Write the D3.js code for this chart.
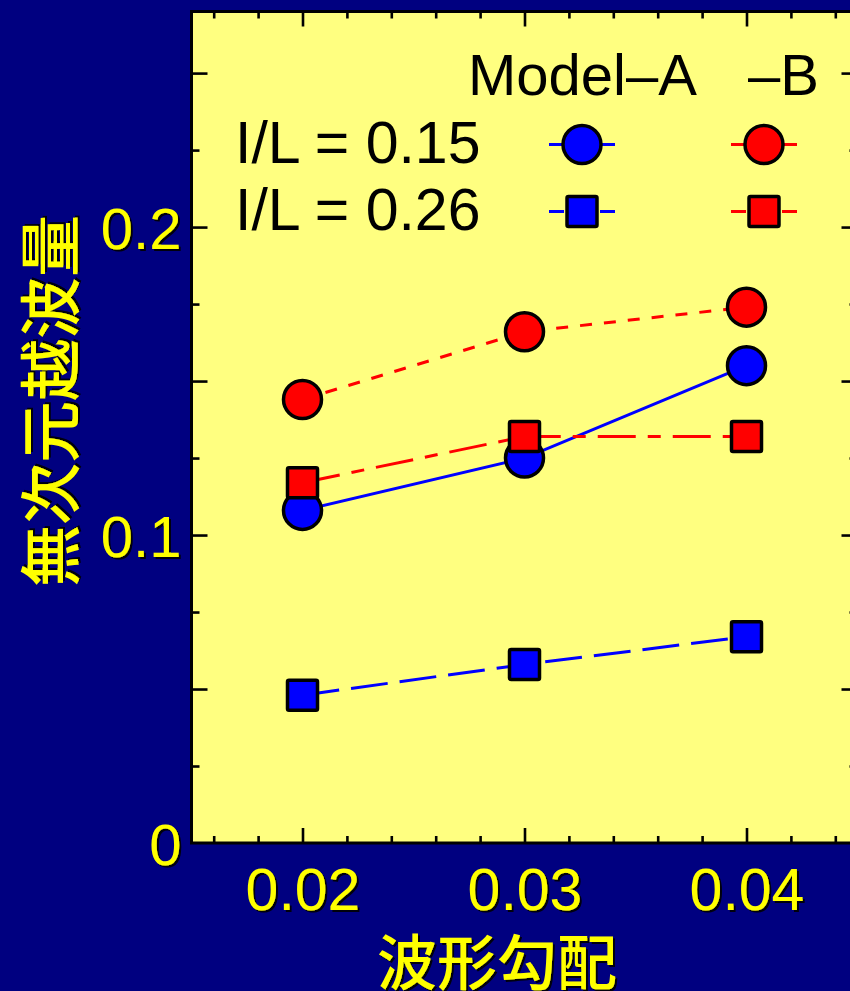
<!DOCTYPE html>
<html>
<head>
<meta charset="utf-8">
<script src="https://cdn.jsdelivr.net/npm/d3@7"></script>
<style>
  html, body { margin: 0; padding: 0; background: #000080; overflow: hidden; }
  svg { display: block; }
</style>
</head>
<body>
<div id="chart"></div>
<script>
// Wave steepness on x, dimensionless overtopping volume on y
const slopes = [0.02, 0.03, 0.04];
const modelA_015 = [0.108, 0.125, 0.155];
const modelB_015 = [0.144, 0.166, 0.174];
const modelA_026 = [0.048, 0.058, 0.067];
const modelB_026 = [0.117, 0.132, 0.132];

const xTicksMajor = [0.02, 0.03, 0.04];
const xTickLabels = ["0.02", "0.03", "0.04"];
const yTicksLabeled = [0, 0.1, 0.2];
const yTickLabels = ["0", "0.1", "0.2"];

const xTitle = "波形勾配";
const yTitle = "無次元越波量";
const legendHeader = ["Model–A", "–B"];
const legendRows = ["I/L = 0.15", "I/L = 0.26"];

const W = 850, H = 991;
const margin = { left: 191.5, top: 11.5, right: -7.5, bottom: 148 };
const plotW = W - margin.left - margin.right;
const plotH = H - margin.top - margin.bottom;

const BLUE = "#0000ff", RED = "#ff0000", NAVY = "#000080", PANEL = "#ffff80", TXT = "#ffff00";
const latin = "'Liberation Sans', Arial, Helvetica, sans-serif";
const cjk = "'Noto Sans CJK JP', 'Noto Sans CJK SC', sans-serif";

const svg = d3.select("#chart").append("svg").attr("width", W).attr("height", H);
svg.append("rect").attr("width", W).attr("height", H).attr("fill", NAVY);

// soft dark drop shadow for the yellow labels
const filt = svg.append("defs").append("filter").attr("id", "shadow")
  .attr("x", "-10%").attr("y", "-10%").attr("width", "130%").attr("height", "130%");
filt.append("feDropShadow").attr("dx", 2).attr("dy", 2).attr("stdDeviation", 0.6)
  .attr("flood-color", "#000").attr("flood-opacity", 0.9);

const x = d3.scaleLinear().domain([0.015, 0.045]).range([0, plotW]);
const y = d3.scaleLinear().domain([0, 0.27]).range([plotH, 0]);

const g = svg.append("g").attr("transform", `translate(${margin.left},${margin.top})`);
g.append("rect").attr("width", plotW).attr("height", plotH).attr("fill", PANEL);

// tick value lists
const xMinor = d3.range(0, 16).map(i => +(0.016 + i * 0.002).toFixed(3)).filter(v => xTicksMajor.indexOf(v) < 0);
const yMinor = d3.range(1, 11).map(i => +(i * 0.025).toFixed(3)).filter(v => Math.abs((v / 0.05) - Math.round(v / 0.05)) > 1e-6);
const yMajor = d3.range(1, 6).map(i => +(i * 0.05).toFixed(2));

function tickAxis(gen, vals, len, transform) {
  const a = g.append("g").attr("transform", transform || null)
    .call(gen.tickValues(vals).tickSize(-len).tickFormat("").tickSizeOuter(0));
  a.select(".domain").remove();
  a.selectAll(".tick line").attr("stroke", "#000").attr("stroke-width", 2.6);
  return a;
}
// inward ticks on all four sides
tickAxis(d3.axisBottom(x), xMinor, 7, `translate(0,${plotH})`);
tickAxis(d3.axisBottom(x), xTicksMajor, 15, `translate(0,${plotH})`);
tickAxis(d3.axisTop(x), xMinor, 7);
tickAxis(d3.axisTop(x), xTicksMajor, 15);
tickAxis(d3.axisLeft(y), yMinor, 8);
tickAxis(d3.axisLeft(y), yMajor, 16);
tickAxis(d3.axisRight(y), yMinor, 8, `translate(${plotW},0)`);
tickAxis(d3.axisRight(y), yMajor, 16, `translate(${plotW},0)`);

// tick labels through the axis generators
const xLab = g.append("g").attr("transform", `translate(0,${plotH})`)
  .call(d3.axisBottom(x).tickValues(xTicksMajor).tickSize(0).tickPadding(0)
    .tickFormat((d, i) => xTickLabels[i]));
xLab.select(".domain").remove();
xLab.selectAll(".tick text")
  .attr("y", 67).attr("dy", null).attr("fill", TXT).attr("filter", "url(#shadow)")
  .style("font-family", latin).style("font-size", "59px");

const yLab = g.append("g")
  .call(d3.axisLeft(y).tickValues(yTicksLabeled).tickSize(0).tickPadding(0)
    .tickFormat((d, i) => yTickLabels[i]));
yLab.select(".domain").remove();
yLab.selectAll(".tick text")
  .attr("x", -10).attr("y", 21).attr("dy", null).attr("fill", TXT).attr("filter", "url(#shadow)")
  .style("font-family", latin).style("font-size", "58px");

// axis titles
svg.append("text").attr("x", 497).attr("y", 958).attr("text-anchor", "middle")
  .attr("dominant-baseline", "central").attr("fill", TXT).attr("filter", "url(#shadow)")
  .style("font-family", cjk).style("font-size", "60px").style("font-weight", 500)
  .text(xTitle);
svg.append("text").attr("transform", "translate(47,401) rotate(-90)")
  .attr("text-anchor", "middle").attr("dominant-baseline", "central")
  .attr("fill", TXT).attr("filter", "url(#shadow)")
  .style("font-family", cjk).style("font-size", "62px").style("font-weight", 500)
  .text(yTitle);

// series definitions
const series = [
  { vals: modelA_015, color: BLUE, shape: "circle", dash: null },
  { vals: modelB_015, color: RED, shape: "circle", dash: "12,12" },
  { vals: modelA_026, color: BLUE, shape: "square", dash: "37,12" },
  { vals: modelB_026, color: RED, shape: "square", dash: "38,12,13,12" }
];

const line = d3.line().x(d => x(d[0])).y(d => y(d[1]));
const lines = g.append("g");
series.forEach(s => {
  lines.append("path").datum(slopes.map((v, i) => [v, s.vals[i]]))
    .attr("d", line).attr("fill", "none").attr("stroke", s.color)
    .attr("stroke-width", 3).attr("stroke-dasharray", s.dash);
});

const R = 19, S = 30;
function drawMarker(parent, shape, color, cx, cy) {
  if (shape === "circle") {
    parent.append("circle").attr("cx", cx).attr("cy", cy).attr("r", R)
      .attr("fill", color).attr("stroke", "#000").attr("stroke-width", 3.5);
  } else {
    parent.append("rect").attr("x", cx - S / 2).attr("y", cy - S / 2)
      .attr("width", S).attr("height", S).attr("rx", 1.5)
      .attr("fill", color).attr("stroke", "#000").attr("stroke-width", 3.5);
  }
}
const marks = g.append("g");
series.forEach(s => {
  slopes.forEach((v, i) => drawMarker(marks, s.shape, s.color, x(v), y(s.vals[i])));
});

// legend
const leg = svg.append("g");
leg.append("text").attr("x", 468).attr("y", 95).text(legendHeader[0]).attr("fill", "#000")
  .style("font-family", latin).style("font-size", "58px");
leg.append("text").attr("x", 748).attr("y", 95).text(legendHeader[1]).attr("fill", "#000")
  .style("font-family", latin).style("font-size", "58px");
const rowY = [144.5, 211.5];
legendRows.forEach((lab, r) => {
  leg.append("text").attr("x", 235).attr("y", rowY[r] + 18).text(lab).attr("fill", "#000")
    .style("font-family", latin).style("font-size", "59px");
});
const colX = [582, 764];
series.forEach((s, k) => {
  const cx = colX[k % 2], cy = rowY[Math.floor(k / 2)];
  [[-33, -18], [18, 33]].forEach(([a, b]) => {
    leg.append("line").attr("x1", cx + a).attr("x2", cx + b).attr("y1", cy).attr("y2", cy)
      .attr("stroke", s.color).attr("stroke-width", 3);
  });
  drawMarker(leg, s.shape, s.color, cx, cy);
});

// plot frame
g.append("rect").attr("width", plotW).attr("height", plotH)
  .attr("fill", "none").attr("stroke", "#000").attr("stroke-width", 3);
</script>
</body>
</html>
